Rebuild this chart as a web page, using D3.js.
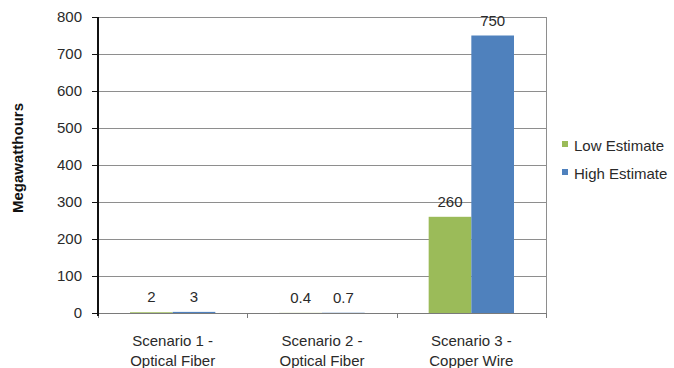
<!DOCTYPE html>
<html>
<head>
<meta charset="utf-8">
<script src="https://cdn.jsdelivr.net/npm/d3@7"></script>
<style>
  html, body { margin: 0; padding: 0; background: #fff; }
  svg { display: block; font-family: "Liberation Sans", Arial, sans-serif; }
</style>
</head>
<body>
<svg id="chart" width="674" height="368"></svg>
<script>
// Energy use per scenario, low and high estimates (MWh)
const categories = [["Scenario 1 -", "Optical Fiber"], ["Scenario 2 -", "Optical Fiber"], ["Scenario 3 -", "Copper Wire"]];
const seriesNames = ["Low Estimate", "High Estimate"];
const lowEstimate = [2, 0.4, 260];
const highEstimate = [3, 0.7, 750];
const yTicks = [0, 100, 200, 300, 400, 500, 600, 700, 800];
const seriesColors = ["#9bbb59", "#4f81bd"];

const svg = d3.select("#chart");
const plot = { left: 98, right: 546, top: 17, bottom: 313 };

const y = d3.scaleLinear().domain([0, 800]).range([plot.bottom, plot.top]);
const x0 = d3.scaleBand().domain(d3.range(categories.length)).range([plot.left, plot.right]).paddingInner(0).paddingOuter(0);
const x1 = d3.scaleBand().domain(d3.range(seriesNames.length)).range([0, x0.bandwidth()]).paddingInner(0).paddingOuter(0.75);

// gridlines
svg.append("g")
  .selectAll("line")
  .data(yTicks.filter(t => t > 0))
  .join("line")
  .attr("x1", plot.left).attr("x2", plot.right)
  .attr("y1", d => Math.round(y(d)) + 0.5).attr("y2", d => Math.round(y(d)) + 0.5)
  .attr("stroke", "#8e8e8e").attr("stroke-width", 1);

// right border of the plot area
svg.append("line")
  .attr("x1", plot.right + 0.5).attr("x2", plot.right + 0.5)
  .attr("y1", plot.top).attr("y2", plot.bottom)
  .attr("stroke", "#8e8e8e");

// bars
const rows = categories.map((c, i) => [lowEstimate[i], highEstimate[i]]);
const groups = svg.append("g").selectAll("g")
  .data(rows)
  .join("g")
  .attr("transform", (d, i) => `translate(${x0(i)},0)`);

groups.selectAll("rect")
  .data(d => d.map((v, s) => ({ v, s })))
  .join("rect")
  .attr("x", d => x1(d.s))
  .attr("width", x1.bandwidth())
  .attr("y", d => y(d.v))
  .attr("height", d => y(0) - y(d.v))
  .attr("fill", d => seriesColors[d.s]);

// value labels
groups.selectAll("text")
  .data(d => d.map((v, s) => ({ v, s })))
  .join("text")
  .attr("x", d => x1(d.s) + x1.bandwidth() / 2)
  .attr("y", d => y(d.v) - 10)
  .attr("text-anchor", "middle")
  .attr("font-size", 15)
  .attr("fill", "#2a2a2a")
  .text(d => String(d.v));

// x axis line and ticks
const xAxis = svg.append("g");
xAxis.append("line")
  .attr("x1", plot.left - 6).attr("x2", plot.right + 1)
  .attr("y1", plot.bottom + 0.5).attr("y2", plot.bottom + 0.5)
  .attr("stroke", "#7a7a7a");
xAxis.selectAll("line.tick")
  .data(d3.range(categories.length + 1))
  .join("line")
  .attr("class", "tick")
  .attr("x1", i => Math.round(plot.left + i * x0.step()) + 0.5)
  .attr("x2", i => Math.round(plot.left + i * x0.step()) + 0.5)
  .attr("y1", plot.bottom).attr("y2", plot.bottom + 5)
  .attr("stroke", "#7a7a7a");

// category labels
const catLabels = svg.append("g").selectAll("text")
  .data(categories)
  .join("text")
  .attr("x", (d, i) => x0(i) + x0.bandwidth() / 2)
  .attr("y", 346)
  .attr("text-anchor", "middle")
  .attr("font-size", 15)
  .attr("fill", "#2a2a2a");
catLabels.selectAll("tspan")
  .data(d => d)
  .join("tspan")
  .attr("x", function () { return d3.select(this.parentNode).attr("x"); })
  .attr("dy", (d, i) => i === 0 ? 0 : 20)
  .text(d => d);

// y axis
const yAxis = svg.append("g");
yAxis.append("line")
  .attr("x1", plot.left).attr("x2", plot.left)
  .attr("y1", plot.top).attr("y2", plot.bottom + 3)
  .attr("stroke", "#111").attr("stroke-width", 2);
yAxis.selectAll("line.tick")
  .data(yTicks)
  .join("line")
  .attr("class", "tick")
  .attr("x1", plot.left - 6).attr("x2", plot.left)
  .attr("y1", d => Math.round(y(d)) + 0.5).attr("y2", d => Math.round(y(d)) + 0.5)
  .attr("stroke", "#111");
yAxis.selectAll("text")
  .data(yTicks)
  .join("text")
  .attr("x", 82)
  .attr("y", d => y(d))
  .attr("dy", "0.36em")
  .attr("text-anchor", "end")
  .attr("font-size", 15)
  .attr("fill", "#2a2a2a")
  .text(d => d);

// y axis title
svg.append("text")
  .attr("transform", "translate(23,158) rotate(-90)")
  .attr("text-anchor", "middle")
  .attr("font-size", 15)
  .attr("font-weight", "bold")
  .attr("fill", "#111")
  .text("Megawatthours");

// legend
const legend = svg.append("g").selectAll("g")
  .data(seriesNames)
  .join("g")
  .attr("transform", (d, i) => `translate(562,${141 + i * 28})`);
legend.append("rect")
  .attr("width", 6).attr("height", 6)
  .attr("fill", (d, i) => seriesColors[i]);
legend.append("text")
  .attr("x", 12).attr("y", 10)
  .attr("font-size", 15)
  .attr("fill", "#2a2a2a")
  .text(d => d);
</script>
</body>
</html>
